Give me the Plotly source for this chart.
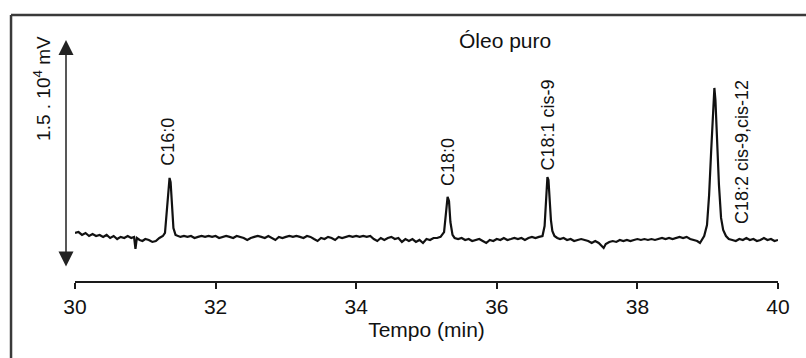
import plotly.graph_objects as go

# ---- data (time in min, detector signal in mV) ----
time_min = [
    30.00, 30.05, 30.10, 30.15, 30.20, 30.25, 30.30, 30.35, 30.40, 30.45,
    30.50, 30.55, 30.60, 30.65, 30.70, 30.75, 30.80, 30.84, 30.86, 30.88,
    30.92, 30.96, 31.00, 31.05, 31.10, 31.15, 31.20, 31.25,
    # C16:0
    31.28, 31.30, 31.32, 31.345, 31.36, 31.38, 31.40, 31.43, 31.46,
    31.50, 31.55, 31.60, 31.65, 31.70, 31.75, 31.80, 31.85, 31.90, 31.95,
    32.00, 32.05, 32.10, 32.15, 32.20, 32.25, 32.30, 32.35, 32.40, 32.45,
    32.50, 32.55, 32.60, 32.65, 32.70, 32.75, 32.80, 32.85, 32.90, 32.95,
    33.00, 33.05, 33.10, 33.15, 33.20, 33.25, 33.30, 33.35, 33.40, 33.45,
    33.50, 33.55, 33.60, 33.65, 33.70, 33.75, 33.80, 33.85, 33.90, 33.95,
    34.00, 34.05, 34.10, 34.15, 34.20, 34.25, 34.30, 34.35, 34.40, 34.45,
    34.50, 34.55, 34.60, 34.65, 34.70, 34.75, 34.80, 34.85, 34.90, 34.95,
    35.00, 35.05, 35.10, 35.15, 35.20,
    # C18:0
    35.25, 35.28, 35.30, 35.32, 35.34, 35.37, 35.40,
    35.45, 35.50, 35.55, 35.60, 35.65, 35.70, 35.75, 35.80, 35.85, 35.90,
    35.95, 36.00, 36.05, 36.10, 36.15, 36.20, 36.25, 36.30, 36.35, 36.40,
    36.45, 36.50, 36.55, 36.60,
    # C18:1 cis-9
    36.65, 36.68, 36.70, 36.72, 36.735, 36.75, 36.77, 36.79, 36.82, 36.86,
    36.90, 36.95, 37.00, 37.05, 37.10, 37.15, 37.20, 37.25, 37.30, 37.35,
    37.40, 37.45, 37.50, 37.52, 37.55, 37.60, 37.65, 37.70, 37.75, 37.80,
    37.85, 37.90, 37.95, 38.00, 38.05, 38.10, 38.15, 38.20, 38.25, 38.30,
    38.35, 38.40, 38.45, 38.50, 38.55, 38.60, 38.65, 38.70, 38.75, 38.80,
    38.85, 38.89,
    # C18:2 cis-9,cis-12
    38.95, 38.99, 39.02, 39.05, 39.08, 39.095, 39.11, 39.13, 39.16, 39.19,
    39.22, 39.26, 39.30,
    39.35, 39.40, 39.45, 39.50, 39.55, 39.60, 39.65, 39.70, 39.75, 39.80,
    39.85, 39.90, 39.95, 40.00,
]

signal_mv = [
    3160, 3220, 3030, 3160, 2960, 3090, 2960, 3030, 2900, 3030,
    2830, 2960, 2760, 2900, 2830, 2960, 2830, 2900, 2110, 2830,
    2700, 2630, 2760, 2700, 2570, 2630, 2830, 2960,
    # C16:0
    3160, 4340, 5860, 6780, 6510, 5000, 3490, 3030, 2960,
    2900, 2960, 2900, 2960, 2830, 2900, 2960, 2900, 2960, 2900,
    2960, 2830, 2900, 2960, 2900, 2830, 2960, 2900, 2830, 2700,
    2830, 2900, 2960, 2900, 2830, 2960, 2830, 2700, 2900, 2830,
    2900, 2960, 2900, 2960, 2900, 2830, 2960, 2900, 2760, 2630,
    2830, 2760, 2900, 2830, 2700, 2900, 2830, 2900, 2960, 2900,
    2960, 2900, 2960, 2900, 2960, 2760, 2630, 2830, 2700, 2830,
    2900, 2760, 2830, 2570, 2760, 2630, 2760, 2570, 2700, 2500,
    2760, 2700, 2830, 2830, 2900,
    # C18:0
    3220, 4800, 5530, 5260, 3880, 3030, 2830,
    2760, 2830, 2700, 2760, 2630, 2700, 2760, 2630, 2500, 2700,
    2630, 2760, 2700, 2830, 2700, 2760, 2830, 2760, 2830, 2700,
    2830, 2900, 2830, 2900,
    # C18:1 cis-9
    2960, 3620, 5330, 6840, 6650, 5330, 4010, 3290, 2960, 2830,
    2760, 2830, 2700, 2760, 2630, 2700, 2760, 2700, 2630, 2500,
    2630, 2500, 2300, 2170, 2430, 2570, 2630, 2570, 2700, 2630,
    2700, 2630, 2700, 2760, 2700, 2760, 2700, 2760, 2700, 2760,
    2830, 2760, 2830, 2760, 2830, 2900, 2830, 2900, 2760, 2700,
    2630, 2500,
    # C18:2 cis-9,cis-12
    2960, 3680, 5660, 8620, 11910, 12700, 11910, 9280, 6320, 4150,
    3360, 2960, 2760,
    2700, 2630, 2760, 2700, 2830, 2700, 2760, 2630, 2700, 2830,
    2700, 2760, 2630, 2700,
]

peak_names = ["C16:0", "C18:0", "C18:1 cis-9", "C18:2 cis-9,cis-12"]
peak_label_x = [31.32, 35.306, 36.728, 39.488]
peak_label_bottom = [7435, 6120, 7170, 3620]

tick_vals = [30, 32, 34, 36, 38, 40]
chart_title = "Óleo puro"
x_title = "Tempo (min)"
scale_label = "1.5 . 10<sup>4</sup> mV"
scale_bottom_mv = 855
scale_top_mv = 15858

FONT = "Liberation Sans, Arial, sans-serif"

fig = go.Figure()
fig.add_trace(go.Scatter(
    x=time_min, y=signal_mv, mode="lines",
    line=dict(color="#111111", width=2.2),
    hoverinfo="skip", showlegend=False,
))

annotations = []
for name, xv, yb in zip(peak_names, peak_label_x, peak_label_bottom):
    annotations.append(dict(
        x=xv, y=yb, xref="x", yref="y", text=name, textangle=-90,
        showarrow=False, xanchor="center", yanchor="bottom",
        font=dict(family=FONT, size=18, color="#111111"),
    ))

# title
annotations.append(dict(
    x=36.12, y=15850, xref="x", yref="y", text=chart_title, showarrow=False,
    xanchor="center", yanchor="middle",
    font=dict(family=FONT, size=21, color="#111111"),
))

# scale bar (double arrow), placed left of the plot area
annotations.append(dict(
    x=-0.0128, y=scale_top_mv, xref="paper", yref="y",
    ax=0, ay=scale_bottom_mv, axref="pixel", ayref="y", text="",
    showarrow=True, arrowside="end+start", arrowhead=2, arrowsize=2.0,
    arrowwidth=1.5, arrowcolor="#222222", standoff=0, startstandoff=0,
))
annotations.append(dict(
    x=-0.047, y=12700, xref="paper", yref="y", text=scale_label, textangle=-90,
    showarrow=False, xanchor="center", yanchor="middle",
    font=dict(family=FONT, size=19, color="#111111"),
))

fig.update_layout(
    width=806, height=358,
    margin=dict(l=75, r=28, t=15, b=77),
    paper_bgcolor="white", plot_bgcolor="white",
    annotations=annotations,
    shapes=[
        dict(type="line", xref="paper", yref="paper", x0=-0.091, x1=1.05, y0=1.0, y1=1.0,
             line=dict(color="#3a3a3a", width=2.5)),
        dict(type="line", xref="paper", yref="paper", x0=-0.091, x1=-0.091, y0=1.0, y1=-0.3,
             line=dict(color="#3a3a3a", width=2.5)),
    ],
    xaxis=dict(
        range=[30, 40], tickvals=tick_vals, ticktext=[str(v) for v in tick_vals],
        showline=True, linecolor="#1a1a1a", linewidth=2,
        ticks="outside", ticklen=6, tickwidth=2, tickcolor="#1a1a1a",
        showgrid=False, zeroline=False,
        tickfont=dict(family=FONT, size=21, color="#111111"),
        title=dict(text=x_title, standoff=3, font=dict(family=FONT, size=21, color="#111111")),
    ),
    yaxis=dict(range=[0, 17500], visible=False, fixedrange=True),
)

fig.write_html("out.html", config={"displayModeBar": False},
               post_script="document.body.style.margin='0';")
